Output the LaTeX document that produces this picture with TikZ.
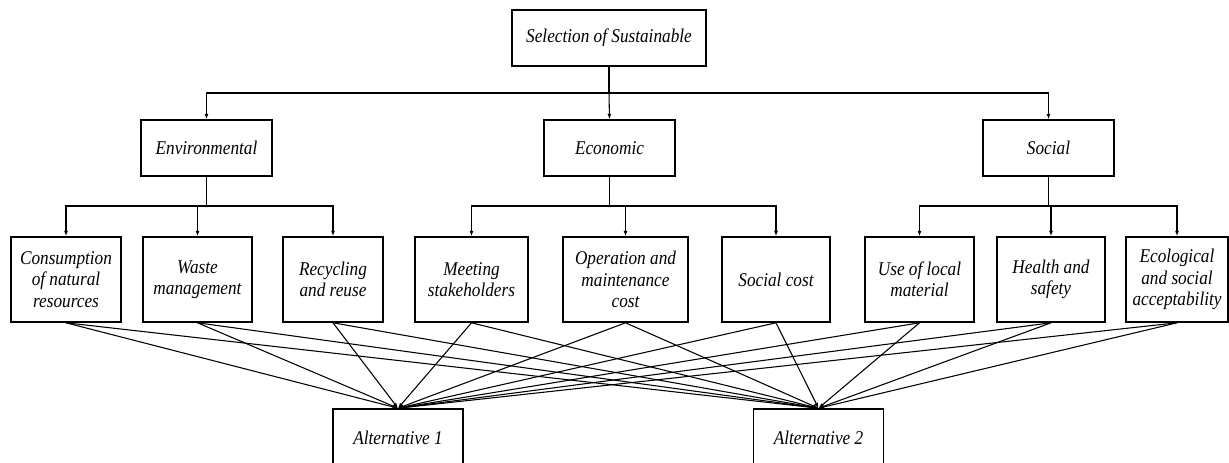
\documentclass[tikz,border=0pt]{standalone}
\usepackage{fontspec}
\setmainfont{Liberation Serif}
\newfontfamily\diagfont[FakeStretch=0.885]{Liberation Serif}
\usetikzlibrary{arrows.meta}
\begin{document}
\begin{tikzpicture}[x=0.75pt,y=-0.75pt,
  box/.style={draw=black,line width=1.2pt,fill=white,inner sep=0pt,align=center,
    font=\diagfont\fontsize{14.6}{15.9}\selectfont\itshape},
  lvl/.style={box,minimum width=98.25pt,minimum height=42pt},
  crit/.style={box,minimum height=63.75pt},
  alt/.style={box,minimum width=97.5pt,minimum height=43.5pt},
  conn/.style={draw=black,line width=0.8pt},
  arr/.style={conn,-{Latex[length=4pt,width=3pt]}}]
\clip (0,0) rectangle (1229,463);
\fill[white] (0,0) rectangle (1229,463);
% top
\node[box,minimum width=145.5pt,minimum height=42pt] (top) at (609,38) {Selection of Sustainable};
% level 2
\node[lvl] (env) at (206.5,148) {Environmental};
\node[lvl] (eco) at (609.5,148) {Economic};
\node[lvl] (soc) at (1048.5,148) {Social};
% criteria
\node[crit,minimum width=82.5pt]  (c1) at (66,279.5)    {Consumption\\of natural\\resources};
\node[crit,minimum width=81.75pt] (c2) at (197.5,279.5) {Waste\\management};
\node[crit,minimum width=75pt]    (c3) at (333,279.5)   {Recycling\\and reuse};
\node[crit,minimum width=84.75pt] (c4) at (471.5,279.5) {Meeting\\stakeholders};
\node[crit,minimum width=93.75pt] (c5) at (625.5,279.5) {Operation and\\maintenance\\cost};
\node[crit,minimum width=81pt]    (c6) at (776,279.5)   {Social cost};
\node[crit,minimum width=81.75pt] (c7) at (919.5,279.5) {Use of local\\material};
\node[crit,minimum width=81pt]    (c8) at (1051,279.5)  {Health and\\safety};
\node[crit,minimum width=76.5pt]  (c9) at (1177,279.5)  {Ecological\\and social\\acceptability};
% alternatives
\node[alt] (a1) at (398,438) {Alternative 1};
\node[alt] (a2) at (818.5,438) {Alternative 2};
% tree connectors
\coordinate (r0) at (0,93);
\coordinate (r1) at (0,206);
\coordinate (j0) at (top.south |- r0);
\draw[conn] (top.south) -- (j0);
\draw[arr] (j0) -| (env.north);
\draw[arr] (j0) -- (eco.north);
\draw[arr] (j0) -| (soc.north);
\coordinate (je) at (env.south |- r1);
\coordinate (jc) at (eco.south |- r1);
\coordinate (js) at (soc.south |- r1);
\draw[conn,line width=1.2pt] (env.south) -- (je);
\draw[conn,line width=1.2pt] (eco.south) -- (jc);
\draw[conn,line width=1.2pt] (soc.south) -- (js);
\foreach \c in {c1,c2,c3} \draw[arr] (je) -| (\c.north);
\foreach \c in {c4,c5,c6} \draw[arr] (jc) -| (\c.north);
\foreach \c in {c7,c8,c9} \draw[arr] (js) -| (\c.north);
% criteria to alternatives
\foreach \c in {c1,c2,c3,c4,c5,c6,c7,c8,c9} {
  \draw[arr] (\c.south) -- (a1.north);
  \draw[arr] (\c.south) -- (a2.north);
}
\end{tikzpicture}
\end{document}
